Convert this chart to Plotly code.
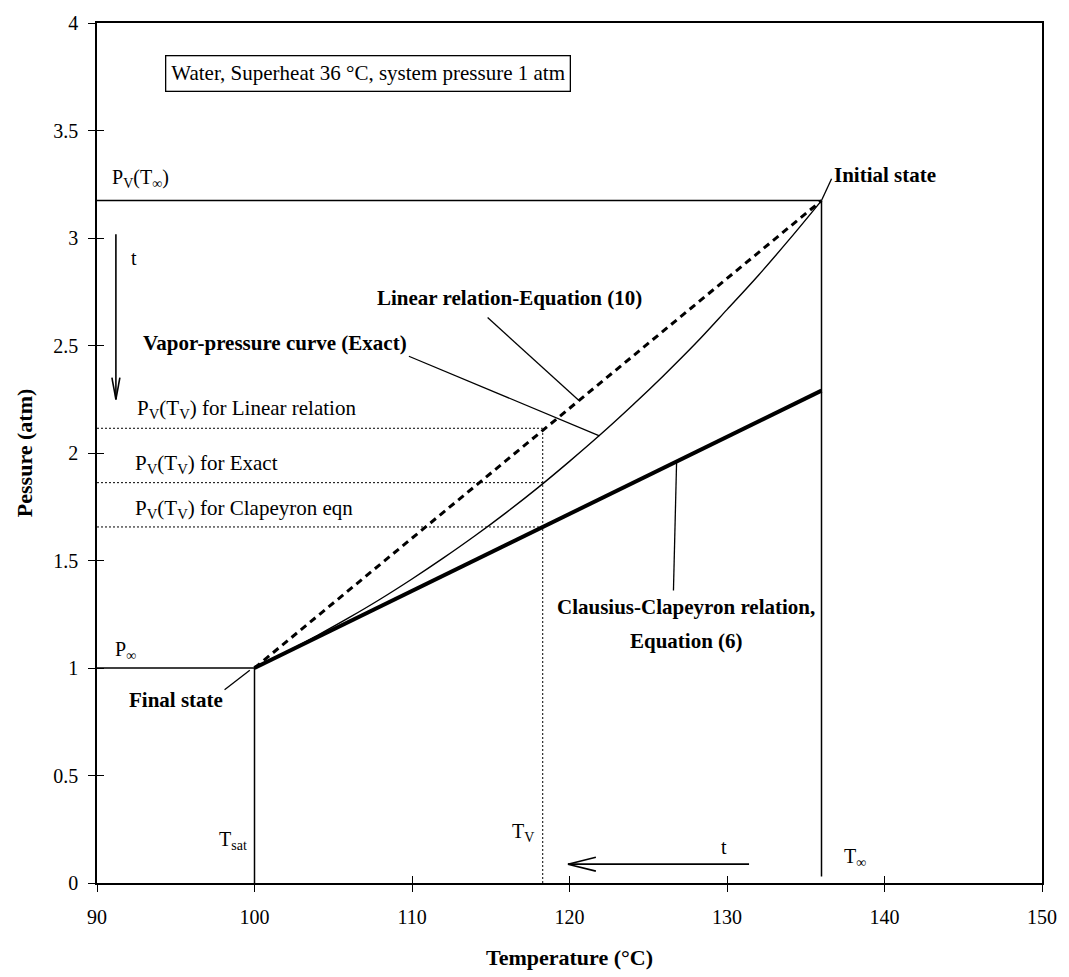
import plotly.graph_objects as go

# Vapor pressure of water (atm) vs temperature (degC)
exact_temp = [100, 102, 104, 106, 108, 110, 112, 114, 116, 118,
              120, 122, 124, 126, 128, 130, 132, 134, 136]
exact_pres = [1.000, 1.074, 1.152, 1.234, 1.321, 1.414, 1.512, 1.615, 1.724, 1.839,
              1.961, 2.088, 2.222, 2.362, 2.509, 2.667, 2.827, 2.997, 3.174]

T_SAT = 100.0        # saturation temperature at system pressure
T_INF = 136.0        # superheated liquid temperature
T_V = 118.3          # vapor temperature at the marked instant
P_INF = 1.0          # system pressure (atm)
P_V_TINF = 3.174     # vapor pressure at T_inf
P_CLAP_END = 2.29    # Clausius-Clapeyron value at T_inf
P_TV_LINEAR = 2.115
P_TV_EXACT = 1.862
P_TV_CLAP = 1.656

X_RANGE = [90, 150]
Y_RANGE = [0, 4]
X_TICKS = [90, 100, 110, 120, 130, 140, 150]
Y_TICKS = [0, 0.5, 1, 1.5, 2, 2.5, 3, 3.5, 4]
Y_TICK_TEXT = ["0", "0.5", "1", "1.5", "2", "2.5", "3", "3.5", "4"]

W, H = 1069, 977
ML, MR, MT, MB = 97, 25, 15, 94
PX_X = (W - ML - MR) / (X_RANGE[1] - X_RANGE[0])
PX_Y = (H - MT - MB) / (Y_RANGE[1] - Y_RANGE[0])

SERIF = "Liberation Serif, Times New Roman, serif"
BLACK = "black"

fig = go.Figure()


def seg(x, y, width=1.5, dash="solid", shape="linear"):
    fig.add_trace(go.Scatter(x=x, y=y, mode="lines", hoverinfo="skip",
                             line=dict(color=BLACK, width=width, dash=dash, shape=shape),
                             showlegend=False))


def linear_at(t):
    return P_INF + (t - T_SAT) * (P_V_TINF - P_INF) / (T_INF - T_SAT)


def clap_at(t):
    return P_INF + (t - T_SAT) * (P_CLAP_END - P_INF) / (T_INF - T_SAT)


# reference lines
seg([X_RANGE[0], T_INF], [P_V_TINF, P_V_TINF], width=1.5)
seg([X_RANGE[0], T_SAT], [P_INF, P_INF], width=1.5)
seg([T_SAT, T_SAT], [0, P_INF], width=1.5)
seg([T_INF, T_INF], [0.03, P_V_TINF], width=1.5)

# dotted markers at T_v
DOT = "2px,2px"
seg([X_RANGE[0], T_V], [P_TV_LINEAR, P_TV_LINEAR], width=1, dash=DOT)
seg([X_RANGE[0], T_V], [P_TV_EXACT, P_TV_EXACT], width=1, dash=DOT)
seg([X_RANGE[0], T_V], [P_TV_CLAP, P_TV_CLAP], width=1, dash=DOT)
seg([T_V, T_V], [0, P_TV_LINEAR], width=1, dash=DOT)

# curves
seg(exact_temp, exact_pres, width=1.4, shape="spline")
seg([T_SAT, T_INF], [P_INF, P_V_TINF], width=3, dash="7px,5px")
seg([T_SAT, T_INF], [P_INF, P_CLAP_END], width=4)

# leader lines from labels to curves
seg([114.8, 120.6], [2.63, linear_at(120.6)], width=1.3)
seg([109.8, 121.9], [2.45, 2.08], width=1.3)
seg([126.6, 126.8], [1.36, clap_at(126.8)], width=1.3)
seg([136.64, T_INF], [3.276, P_V_TINF], width=1.3)
seg([98.1, 99.7], [0.899, 0.99], width=1.3)


def arrow(x0, y0, x1, y1, head_len=20, head_half=5):
    """Line from (x0,y0) to (x1,y1) with an open V head at (x1,y1)."""
    seg([x0, x1], [y0, y1], width=1.6)
    dxp, dyp = (x1 - x0) * PX_X, (y1 - y0) * PX_Y
    n = (dxp ** 2 + dyp ** 2) ** 0.5
    ux, uy = dxp / n, dyp / n
    for s in (1, -1):
        bx = -ux * head_len + s * (-uy) * head_half
        by = -uy * head_len + s * ux * head_half
        seg([x1 + bx / PX_X, x1], [y1 + by / PX_Y, y1], width=1.6)


arrow(91.2, 3.018, 91.2, 2.249, head_len=22, head_half=4)
arrow(131.4, 0.0876, 119.9, 0.0876, head_len=28, head_half=7)

# overlay subplot carrying the inner half of the crossing ticks
fig.add_trace(go.Scatter(x=[None], y=[None], xaxis="x2", yaxis="y2",
                         showlegend=False, hoverinfo="skip"))

ann = []


def label(x, y, text, size=20, xanchor="left", bold=False, **kw):
    if bold:
        text = "<b>" + text + "</b>"
    ann.append(dict(x=x, y=y, xref="x", yref="y", text=text, showarrow=False,
                    xanchor=xanchor, yanchor="middle",
                    font=dict(family=SERIF, size=size, color=BLACK), **kw))


label(94.31, 3.765, "Water, Superheat 36 °C, system pressure 1 atm", size=21,
      bordercolor=BLACK, borderwidth=1.3, borderpad=5, bgcolor="white")
label(90.82, 3.277, "P<sub>V</sub>(T<sub>∞</sub>)")
label(92.0, 2.908, "t")
label(92.4, 2.203, "P<sub>V</sub>(T<sub>V</sub>) for Linear relation", size=21)
label(92.3, 1.949, "P<sub>V</sub>(T<sub>V</sub>) for Exact", size=21)
label(92.3, 1.738, "P<sub>V</sub>(T<sub>V</sub>) for Clapeyron eqn", size=21)
label(91.0, 1.083, "P<sub>∞</sub>")
label(91.9, 0.853, "Final state", size=21, bold=True)
label(136.64, 3.295, "Initial state", size=21, bold=True)
label(116.2, 2.72, "Linear relation-Equation (10)", size=21, xanchor="center", bold=True)
label(109.8, 2.51, "Vapor-pressure curve (Exact)", size=21, xanchor="right", bold=True)
label(127.4, 1.285, "Clausius-Clapeyron relation,", size=21, xanchor="center", bold=True)
label(127.4, 1.125, "Equation (6)", size=21, xanchor="center", bold=True)
label(99.65, 0.2, "T<sub>sat</sub>", xanchor="right")
label(117.9, 0.235, "T<sub>V</sub>", xanchor="right")
label(137.3, 0.12, "T<sub>∞</sub>")
label(129.8, 0.166, "t", xanchor="center")

# axis titles
ann.append(dict(xref="paper", yref="paper", x=0.5, y=-(958 - (H - MB)) / (H - MT - MB),
                text="<b>Temperature (°C)</b>", showarrow=False,
                xanchor="center", yanchor="middle",
                font=dict(family=SERIF, size=22, color=BLACK)))
ann.append(dict(xref="paper", yref="paper", x=-(ML - 24) / (W - ML - MR), y=0.5,
                text="<b>Pessure (atm)</b>", showarrow=False, textangle=-90,
                xanchor="center", yanchor="middle",
                font=dict(family=SERIF, size=22, color=BLACK)))

axis_common = dict(showgrid=False, zeroline=False, color=BLACK)

fig.update_layout(
    width=W, height=H,
    margin=dict(l=ML, r=MR, t=MT, b=MB),
    paper_bgcolor="white", plot_bgcolor="white",
    showlegend=False,
    annotations=ann,
    xaxis=dict(range=X_RANGE, tickvals=X_TICKS, ticks="outside", ticklen=7,
               tickwidth=1.3, showline=True, linewidth=1.5, linecolor=BLACK,
               mirror=True, ticklabelstandoff=8,
               tickfont=dict(family=SERIF, size=20, color=BLACK), **axis_common),
    yaxis=dict(range=Y_RANGE, tickvals=Y_TICKS, ticktext=Y_TICK_TEXT, ticks="outside",
               ticklen=7, tickwidth=1.3, showline=True, linewidth=1.5, linecolor=BLACK,
               mirror=True, ticklabelstandoff=6,
               tickfont=dict(family=SERIF, size=20, color=BLACK), **axis_common),
    xaxis2=dict(range=X_RANGE, tickvals=X_TICKS, ticks="inside", ticklen=7,
                tickwidth=1.3, showticklabels=False, overlaying="x",
                anchor="y2", showline=False, **axis_common),
    yaxis2=dict(range=Y_RANGE, tickvals=Y_TICKS, ticks="inside", ticklen=7,
                tickwidth=1.3, showticklabels=False, overlaying="y",
                anchor="x2", showline=False, **axis_common),
)

fig.write_html("out.html")
